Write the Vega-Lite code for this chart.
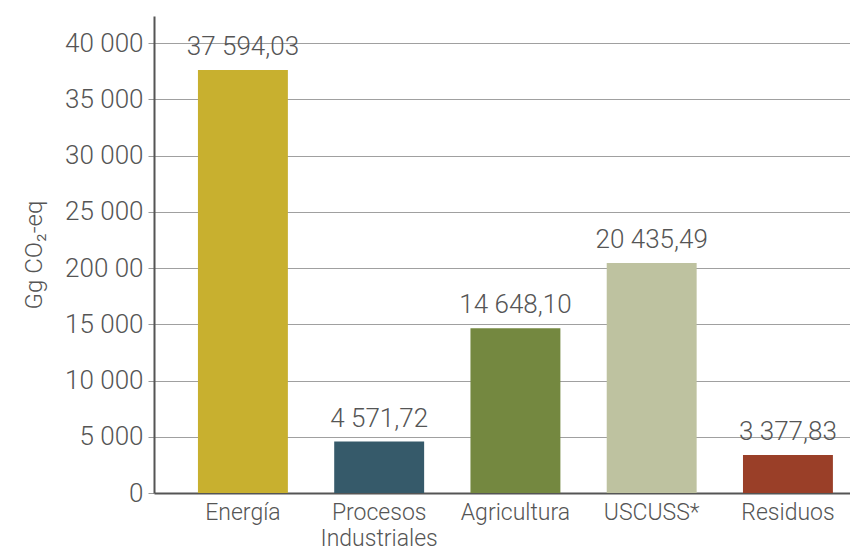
{
  "$schema": "https://vega.github.io/schema/vega-lite/v6.json",
  "autosize": {"type": "none"},
  "padding": {"left": 154, "top": 16, "right": 0, "bottom": 61},
  "width": 696,
  "height": 477,
  "background": "white",
  "config": {
    "view": {"stroke": null},
    "font": "Roboto",
    "axis": {"labelFont": "Roboto", "titleFont": "Roboto"}
  },
  "data": {
    "values": [
      {"sector": "Energía", "value": 37594.03, "label": "37 594,03"},
      {"sector": "Procesos Industriales", "value": 4571.72, "label": "4 571,72"},
      {"sector": "Agricultura", "value": 14648.10, "label": "14 648,10"},
      {"sector": "USCUSS*", "value": 20435.49, "label": "20 435,49"},
      {"sector": "Residuos", "value": 3377.83, "label": "3 377,83"}
    ]
  },
  "encoding": {
    "x": {
      "field": "sector",
      "type": "nominal",
      "sort": null,
      "scale": {"paddingInner": 0.34, "paddingOuter": 0.224, "align": 0.72},
      "axis": {
        "title": null,
        "labelAngle": 0,
        "ticks": false,
        "domain": true,
        "domainColor": "#555555",
        "domainWidth": 2,
        "labelPadding": 8,
        "labelFontSize": 23,
        "labelFontWeight": 300,
        "labelColor": "#555555",
        "labelLineHeight": 26,
        "labelExpr": "datum.value == 'Procesos Industriales' ? ['Procesos', 'Industriales'] : datum.value"
      }
    },
    "y": {
      "field": "value",
      "type": "quantitative",
      "scale": {"domain": [0, 42400], "nice": false, "zero": true},
      "axis": {
        "values": [0, 5000, 10000, 15000, 20000, 25000, 30000, 35000, 40000],
        "labelExpr": "datum.value == 20000 ? '200 00' : replace(format(datum.value, ','), ',', ' ')",
        "title": "Gg CO₂-eq",
        "titleFontSize": 24,
        "titleFontWeight": 300,
        "titleColor": "#555555",
        "titlePadding": 18,
        "labelFontSize": 26,
        "labelFontWeight": 300,
        "labelColor": "#555555",
        "labelPadding": 5,
        "tickSize": 6,
        "tickColor": "#999999",
        "grid": true,
        "gridColor": "#a0a0a0",
        "gridWidth": 1,
        "domainColor": "#555555",
        "domainWidth": 2
      }
    }
  },
  "layer": [
    {
      "mark": {"type": "bar"},
      "encoding": {
        "color": {
          "field": "sector",
          "type": "nominal",
          "sort": null,
          "legend": null,
          "scale": {
            "domain": ["Energía", "Procesos Industriales", "Agricultura", "USCUSS*", "Residuos"],
            "range": ["#C8B02F", "#365A6A", "#748840", "#BEC2A0", "#9A3F28"]
          }
        }
      }
    },
    {
      "mark": {"type": "text", "baseline": "bottom", "dy": -10, "fontSize": 26, "fontWeight": 300, "color": "#555555", "font": "Roboto"},
      "encoding": {"text": {"field": "label"}}
    }
  ]
}
